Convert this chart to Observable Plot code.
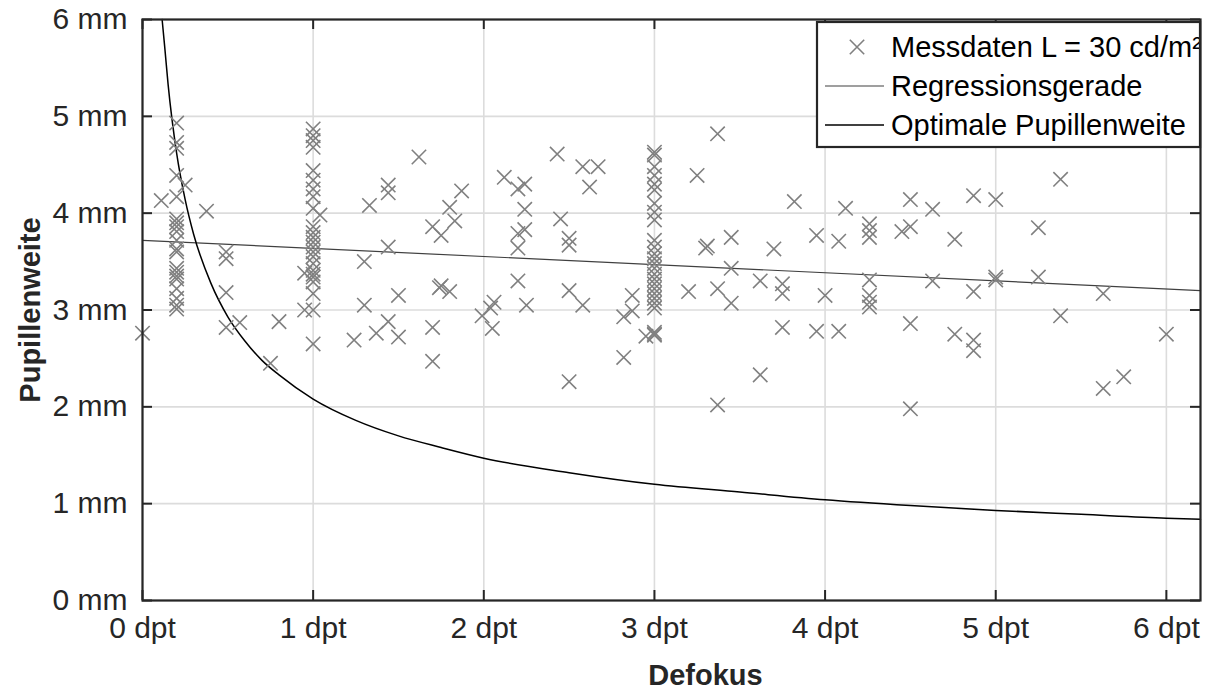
<!DOCTYPE html>
<html>
<head>
<meta charset="utf-8">
<script src="https://cdn.jsdelivr.net/npm/d3@7"></script>
<script src="https://cdn.jsdelivr.net/npm/@observablehq/plot@0.6"></script>
<style>
  html, body { margin: 0; padding: 0; background: #fff; }
  #chart svg { display: block; }
</style>
</head>
<body>
<div id="chart"></div>
<script>
// ---- Data ----
// Measured pupil widths (Defokus in dpt, Pupillenweite in mm)
const measX = [
  0, 0.11,
  0.2, 0.2, 0.2, 0.2, 0.2, 0.2, 0.2, 0.2, 0.2, 0.2, 0.2, 0.2, 0.2, 0.2, 0.2, 0.2, 0.2, 0.2, 0.2, 0.2,
  0.25, 0.375, 0.49, 0.49, 0.49, 0.49, 0.57, 0.75, 0.80, 0.95, 0.95,
  1, 1, 1, 1, 1, 1, 1, 1, 1, 1, 1, 1, 1, 1, 1, 1, 1, 1, 1, 1, 1, 1, 1, 1,
  1.04,
  1.24, 1.30, 1.30, 1.33, 1.37, 1.44, 1.44, 1.44, 1.44, 1.50, 1.50, 1.62, 1.70, 1.70, 1.70, 1.75, 1.75, 1.74, 1.80, 1.80, 1.83, 1.87, 1.99,
  2.04, 2.06, 2.05, 2.12, 2.20, 2.24, 2.24, 2.20, 2.24, 2.20, 2.20, 2.25, 2.43, 2.45, 2.50, 2.50, 2.50, 2.58, 2.50, 2.58, 2.67, 2.62, 2.82, 2.82, 2.87, 2.87, 2.95,
  3, 3, 3, 3, 3, 3, 3, 3, 3, 3, 3, 3, 3, 3, 3, 3, 3, 3, 3, 3, 3, 3, 3, 3, 3, 3,
  3.20, 3.25, 3.30, 3.31, 3.37, 3.37, 3.37, 3.45, 3.45, 3.45, 3.62, 3.62, 3.70, 3.75, 3.75, 3.75, 3.82, 3.95, 3.95, 4.00,
  4.08, 4.08, 4.12, 4.26, 4.26, 4.26, 4.26, 4.26, 4.26, 4.26, 4.45, 4.50, 4.50, 4.50, 4.50, 4.63, 4.63, 4.76, 4.76, 4.87, 4.87, 4.87, 4.87, 5.00, 5.00, 5.00,
  5.25, 5.25, 5.38, 5.38, 5.63, 5.63, 5.75, 6.00
];
const measY = [
  2.76, 4.13,
  4.93, 4.73, 4.67, 4.39, 4.17, 3.94, 3.90, 3.86, 3.81, 3.72, 3.63, 3.60, 3.43, 3.39, 3.35, 3.32, 3.22, 3.12, 3.05, 3.01,
  4.29, 4.02, 3.60, 3.53, 3.18, 2.82, 2.87, 2.45, 2.88, 3.38, 3.00,
  4.87, 4.80, 4.75, 4.68, 4.44, 4.34, 4.25, 4.17, 4.05, 3.86, 3.80, 3.75, 3.70, 3.65, 3.60, 3.55, 3.48, 3.41, 3.37, 3.34, 3.29, 3.17, 3.00, 2.65,
  3.98,
  2.69, 3.50, 3.05, 4.08, 2.76, 4.29, 4.21, 3.65, 2.88, 3.15, 2.72, 4.58, 3.86, 2.82, 2.47, 3.77, 3.25, 3.23, 4.06, 3.19, 3.92, 4.23, 2.94,
  3.02, 3.08, 2.81, 4.37, 4.25, 4.30, 4.04, 3.79, 3.83, 3.64, 3.30, 3.05, 4.61, 3.94, 3.74, 3.67, 3.20, 3.05, 2.26, 4.48, 4.48, 4.27, 2.93, 2.51, 3.15, 2.99, 2.73,
  4.63, 4.60, 4.48, 4.39, 4.30, 4.24, 4.10, 4.01, 3.93, 3.72, 3.65, 3.58, 3.53, 3.48, 3.43, 3.37, 3.32, 3.27, 3.22, 3.17, 3.12, 3.07, 3.02, 2.77, 2.74, 2.75,
  3.19, 4.39, 3.64, 3.66, 4.82, 3.22, 2.02, 3.75, 3.43, 3.07, 3.30, 2.33, 3.63, 3.27, 3.17, 2.82, 4.12, 3.77, 2.78, 3.15,
  3.71, 2.78, 4.05, 3.89, 3.82, 3.75, 3.31, 3.15, 3.08, 3.03, 3.81, 3.86, 4.14, 2.86, 1.98, 4.04, 3.30, 3.73, 2.75, 4.18, 3.19, 2.69, 2.58, 4.14, 3.34, 3.31,
  3.85, 3.34, 4.35, 2.94, 3.17, 2.19, 2.31, 2.75
];

// Regression line (end points)
const regX = [0, 6.2];
const regY = [3.72, 3.20];

// Optimal pupil width curve
const optX = [0.115, 0.13, 0.15, 0.2, 0.25, 0.3, 0.4, 0.5, 0.6, 0.7, 0.8, 1.0, 1.25, 1.5, 1.75, 2.0, 2.5, 3.0, 3.5, 4.0, 4.5, 5.0, 5.5, 6.0, 6.2];
const optY = [6.0, 5.72, 5.33, 4.62, 4.14, 3.78, 3.28, 2.93, 2.68, 2.48, 2.33, 2.08, 1.86, 1.70, 1.58, 1.47, 1.32, 1.20, 1.12, 1.04, 0.98, 0.93, 0.89, 0.85, 0.84];

// Ticks
const xTicks = [0, 1, 2, 3, 4, 5, 6];
const yTicks = [0, 1, 2, 3, 4, 5, 6];
const xTickUnit = "dpt";
const yTickUnit = "mm";

// Labels
const xLabel = "Defokus";
const yLabel = "Pupillenweite";
const legendLabels = ["Messdaten L = 30 cd/m²", "Regressionsgerade", "Optimale Pupillenweite"];

// ---- Build tables ----
const measured = measX.map((x, i) => ({x, y: measY[i]}));
const regression = regX.map((x, i) => ({x, y: regY[i]}));
const optimal = optX.map((x, i) => ({x, y: optY[i]}));

// ---- Layout ----
const W = 1208, H = 691;
const mL = 142, mR = 8, mT = 19, mB = 91;
const plotW = W - mL - mR, plotH = H - mT - mB;
const FONT = "'Liberation Sans', Arial, Helvetica, sans-serif";
const FS_TICK = 30, FS_LABEL = 29, FS_LEGEND = 29;
const axisColor = "#262626";
const markerColor = "#808080";
const tickLen = 10;

const chart = Plot.plot({
  width: W, height: H,
  marginLeft: mL, marginRight: mR, marginTop: mT, marginBottom: mB,
  style: {fontFamily: FONT, fontSize: FS_TICK + "px", color: axisColor, background: "#fff"},
  x: {domain: [0, 6.2], axis: null},
  y: {domain: [0, 6], axis: null},
  marks: [
    Plot.gridX(xTicks, {stroke: "#dcdcdc", strokeOpacity: 1, strokeWidth: 1.6}),
    Plot.gridY(yTicks, {stroke: "#dcdcdc", strokeOpacity: 1, strokeWidth: 1.6}),
    Plot.line(regression, {x: "x", y: "y", stroke: "#404040", strokeWidth: 1.2}),
    Plot.line(optimal, {x: "x", y: "y", stroke: "#000", strokeWidth: 1.5, curve: "monotone-x"}),
    Plot.dot(measured, {x: "x", y: "y", symbol: "times", r: 6.6, stroke: markerColor, strokeWidth: 1.6}),
    // inward ticks on all four sides
    Plot.tickY(yTicks, {y: d => d, insetRight: plotW - tickLen, stroke: axisColor, strokeWidth: 2}),
    Plot.tickY(yTicks, {y: d => d, insetLeft: plotW - tickLen, stroke: axisColor, strokeWidth: 2}),
    Plot.tickX(xTicks, {x: d => d, insetTop: plotH - tickLen, stroke: axisColor, strokeWidth: 2}),
    Plot.tickX(xTicks, {x: d => d, insetBottom: plotH - tickLen, stroke: axisColor, strokeWidth: 2}),
    Plot.frame({stroke: axisColor, strokeWidth: 2.2}),
    Plot.axisX(xTicks, {tickSize: 0, tickPadding: 16, tickFormat: d => `${d} ${xTickUnit}`, label: null, fill: axisColor}),
    Plot.axisY(yTicks, {tickSize: 0, tickPadding: 15, tickFormat: d => `${d} ${yTickUnit}`, label: null, fill: axisColor}),
    Plot.text([xLabel], {text: d => d, frameAnchor: "bottom", lineAnchor: "middle", textAnchor: "middle", dx: 34, dy: 75, fontSize: FS_LABEL, fontWeight: "bold", fill: axisColor}),
    Plot.text([yLabel], {text: d => d, frameAnchor: "left", lineAnchor: "middle", textAnchor: "middle", dx: -112, rotate: -90, fontSize: FS_LABEL, fontWeight: "bold", fill: axisColor})
  ]
});

document.getElementById("chart").appendChild(chart);

// ---- Legend (box inside top-right of the plot area) ----
const svg = d3.select(chart);
const lg = svg.append("g")
  .attr("font-family", FONT).attr("font-size", FS_LEGEND).attr("text-anchor", "start");
const box = {x: 817, y: 22, w: W - mR - 817, h: 125};
lg.append("clipPath").attr("id", "legclip")
  .append("rect").attr("x", box.x).attr("y", box.y).attr("width", box.w).attr("height", box.h);
lg.append("rect")
  .attr("x", box.x).attr("y", box.y).attr("width", box.w).attr("height", box.h)
  .attr("fill", "#fff").attr("stroke", "none");
const rows = lg.append("g").attr("clip-path", "url(#legclip)");
const rowY = [47, 86, 125];
const textX = 891;
// marker row
rows.append("path")
  .attr("transform", `translate(857,${rowY[0]})`)
  .attr("d", d3.symbol(d3.symbolTimes, Math.PI * 6.6 * 6.6)())
  .attr("fill", "none").attr("stroke", markerColor).attr("stroke-width", 1.6);
// line rows
rows.append("line").attr("x1", 825).attr("x2", 884).attr("y1", rowY[1]).attr("y2", rowY[1])
  .attr("stroke", "#404040").attr("stroke-width", 1.2);
rows.append("line").attr("x1", 825).attr("x2", 884).attr("y1", rowY[2]).attr("y2", rowY[2])
  .attr("stroke", "#000").attr("stroke-width", 1.5);
legendLabels.forEach((t, i) => {
  rows.append("text").attr("x", textX).attr("y", rowY[i]).attr("dy", "0.35em")
    .attr("text-anchor", "start").attr("fill", "#000").text(t);
});
lg.append("rect")
  .attr("x", box.x).attr("y", box.y).attr("width", box.w).attr("height", box.h)
  .attr("fill", "none").attr("stroke", axisColor).attr("stroke-width", 2.2);
</script>
</body>
</html>
